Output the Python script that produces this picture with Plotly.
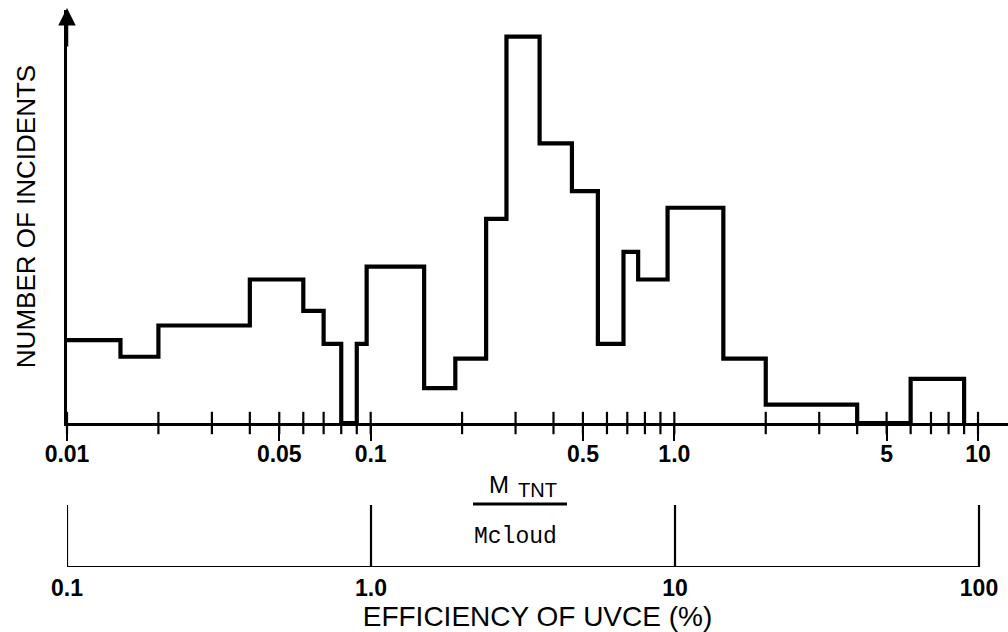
import plotly.graph_objects as go

# ---- data ----
mtnt_edges = [0.01, 0.015, 0.02, 0.04, 0.06, 0.07, 0.08, 0.09, 0.097, 0.15, 0.19,
              0.24, 0.28, 0.36, 0.46, 0.56, 0.68, 0.76, 0.95, 1.45, 2.0, 4.0, 6.0, 9.0]
incidents = [4.5, 3.6, 5.3, 7.8, 6.1, 4.3, 0, 4.3, 8.5, 1.9, 3.5,
             11.1, 21.0, 15.2, 12.6, 4.3, 9.3, 7.8, 11.7, 3.5, 1.0, 0, 2.4]

major_ticks = [0.01, 0.05, 0.1, 0.5, 1.0, 5, 10]
major_labels = ["0.01", "0.05", "0.1", "0.5", "1.0", "5", "10"]
minor_ticks = [0.02, 0.03, 0.04, 0.06, 0.07, 0.08, 0.09,
               0.2, 0.3, 0.4, 0.6, 0.7, 0.8, 0.9,
               2, 3, 4, 6, 7, 8, 9]

eff_ticks = [0.1, 1.0, 10, 100]
eff_labels = ["0.1", "1.0", "10", "100"]

W, H = 1008, 632
L = 67
PW = W - L

def px_x(p):
    return (p - L) / PW

def px_y(p):
    return 1 - p / H

FONT = "Liberation Sans, Arial, sans-serif"

fig = go.Figure()

# histogram outline
step_x = list(mtnt_edges)
step_y = list(incidents) + [0]
fig.add_trace(go.Scatter(
    x=step_x, y=step_y, mode="lines", line=dict(shape="hv", color="black", width=4.2),
    cliponaxis=False, hoverinfo="skip", showlegend=False))

# tick marks crossing the axis line
all_ticks = major_ticks + minor_ticks
fig.add_trace(go.Scatter(
    x=all_ticks, y=[0] * len(all_ticks), mode="markers",
    marker=dict(symbol="line-ns", size=16, line=dict(width=2.2, color="black")),
    cliponaxis=False, hoverinfo="skip", showlegend=False))

# lower efficiency scale
lx, ly = [], []
for t in eff_ticks:
    lx += [t, t, None]
    ly += [0, 1, None]
lx += [eff_ticks[0], eff_ticks[-1]]
ly += [0, 0]
fig.add_trace(go.Scatter(
    x=lx, y=ly, mode="lines", line=dict(color="black", width=2.2),
    xaxis="x2", yaxis="y2", cliponaxis=False, hoverinfo="skip", showlegend=False))

ymax = 22.45
x1_range = [-2, -2 + PW / 303.67]
x2_range = [-1, -1 + PW / 304.0]

fig.update_layout(
    template="none",
    width=W, height=H,
    margin=dict(l=L, r=0, t=0, b=0),
    paper_bgcolor="white", plot_bgcolor="white",
    font=dict(family=FONT, color="black"),
    showlegend=False,
    xaxis=dict(
        type="log", range=x1_range, domain=[0, 1], anchor="y",
        showgrid=False, zeroline=False, showline=True, linewidth=2.5, linecolor="black",
        tickmode="array", tickvals=major_ticks, ticktext=major_labels,
        ticks="outside", ticklen=15, tickwidth=2.2, tickcolor="black",
        tickfont=dict(size=23, family=FONT, color="black", weight="bold"),
        ticklabelstandoff=-6,
        automargin=False,
    ),
    yaxis=dict(
        range=[0, ymax], domain=[px_y(423), px_y(10)], anchor="x",
        showgrid=False, zeroline=False, showline=True, linewidth=2.5, linecolor="black",
        showticklabels=False, ticks="",
        title=dict(text="NUMBER OF INCIDENTS", font=dict(size=26, family=FONT), standoff=22),
        automargin=False,
    ),
    xaxis2=dict(
        type="log", range=x2_range, domain=[0, 1], anchor="y2",
        showgrid=False, zeroline=False, showline=False,
        tickmode="array", tickvals=eff_ticks, ticktext=eff_labels,
        ticks="", tickfont=dict(size=23, family=FONT, color="black", weight="bold"),
        ticklabelstandoff=5,
        title=dict(text="EFFICIENCY OF UVCE (%)", font=dict(size=28, family=FONT), standoff=12),
        automargin=False,
    ),
    yaxis2=dict(
        range=[0, 1], domain=[px_y(567), px_y(505)], anchor="x2",
        showgrid=False, zeroline=False, showline=False, showticklabels=False, ticks="",
        automargin=False,
    ),
)

# arrowhead on the y axis
fig.add_annotation(x=0, y=px_y(8), xref="paper", yref="paper", ax=0, ay=40,
                   text="", showarrow=True, arrowhead=2, arrowsize=1.4,
                   arrowwidth=2.5, arrowcolor="black")

# M_TNT / Mcloud fraction
fig.add_annotation(x=px_x(499), y=px_y(484), xref="paper", yref="paper",
                   xanchor="center", yanchor="middle",
                   text="M", showarrow=False, font=dict(size=24, family=FONT))
fig.add_annotation(x=px_x(537), y=px_y(490), xref="paper", yref="paper",
                   xanchor="center", yanchor="middle",
                   text="TNT", showarrow=False, font=dict(size=20, family=FONT))
fig.add_shape(type="line", xref="paper", yref="paper",
              x0=px_x(473), x1=px_x(567), y0=px_y(504), y1=px_y(504),
              line=dict(color="black", width=3))
fig.add_annotation(x=px_x(515), y=px_y(537), xref="paper", yref="paper",
                   xanchor="center", yanchor="middle",
                   text="Mcloud", showarrow=False,
                   font=dict(size=23, family="Liberation Mono, DejaVu Sans Mono, monospace"))

fig.write_html("out.html")
